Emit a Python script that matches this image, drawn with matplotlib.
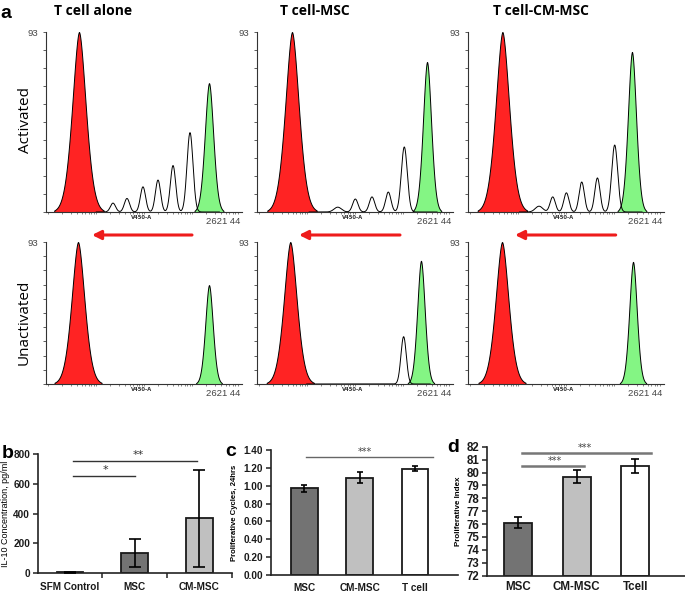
import numpy as np
import matplotlib
matplotlib.use("Agg")
import matplotlib.pyplot as plt
from matplotlib.ticker import FormatStrFormatter

# ---------------- data ----------------
CH_MAX = 262144
COUNT_MAX = 93
conditions = ["T cell alone", "T cell-MSC", "T cell-CM-MSC"]
row_labels = ["Activated", "Unactivated"]

# histogram peaks: (channel, count, width)
act_red = [[(44100, 93, 8800)], [(46800, 93, 8800)], [(46000, 93, 8800)]]
act_green = [[(218000, 66.6, 5600)], [(227400, 77.5, 5400)], [(219300, 82.7, 5400)]]
act_div = [
    [(89600, 4.6, 3500), (108300, 7.0, 3500), (129700, 13.0, 3500),
     (149800, 16.5, 3500), (169900, 24.0, 3600), (192600, 41.0, 4000)],
    [(108000, 2.5, 5000), (131500, 6.7, 3600), (153800, 7.8, 3600),
     (175600, 10.3, 3600), (197000, 33.6, 4000)],
    [(95000, 3.0, 5000), (113300, 7.8, 3500), (131600, 9.9, 3500),
     (152100, 15.5, 3500), (173100, 17.6, 3500), (196200, 34.6, 4000)],
]
un_red = [[(42800, 93, 8400)], [(44500, 93, 8400)], [(45500, 93, 8400)]]
un_green = [[(218000, 64.8, 5000)], [(219300, 80.7, 5000)], [(220700, 80.0, 5000)]]
un_div = [[], [(196100, 31.0, 3600)], []]

b_cats = ["SFM Control", "MSC", "CM-MSC"]
b_vals = [7, 136, 370]
b_err = [3, 95, 325]
b_ticks = [0, 200, 400, 600, 800]

c_cats = ["MSC", "CM-MSC", "T cell"]
c_vals = [0.97, 1.09, 1.19]
c_err = [0.035, 0.06, 0.03]
c_ticks = [0.0, 0.2, 0.4, 0.6, 0.8, 1.0, 1.2, 1.4]

d_cats = ["MSC", "CM-MSC", "Tcell"]
d_vals = [76.12, 79.67, 80.52]
d_err = [0.45, 0.49, 0.52]
d_ticks = list(range(72, 83))

# ---------------- layout helpers ----------------
W, H = 685, 595
fig = plt.figure(figsize=(6.85, 5.95), dpi=100)


def rect(x0, y0, x1, y1):
    return [x0 / W, 1 - y1 / H, (x1 - x0) / W, (y1 - y0) / H]


RED = "#ff2323"
GREEN = "#84f584"
xs = np.linspace(0, CH_MAX, 1500)


def curve(peaks, p=2.0):
    y = np.zeros_like(xs)
    for c, h, w in peaks:
        y += h * np.exp(-0.5 * np.abs((xs - c) / w) ** p)
    return y


col_left = [46, 257, 468]
col_w = 196
row_y = [(32, 212), (242, 384)]

# log-like tick pattern along the channel axis (styling)
xt = []
for d in [0.0, 0.25, 0.5, 0.75]:
    for k in range(1, 10):
        xt.append((d + 0.25 * np.log10(k)) * CH_MAX * 0.98 + 0.01 * CH_MAX)

for r, (reds, greens, divs) in enumerate([(act_red, act_green, act_div),
                                          (un_red, un_green, un_div)]):
    y0, y1 = row_y[r]
    for c in range(3):
        ax = fig.add_axes(rect(col_left[c], y0, col_left[c] + col_w, y1))
        ax.set_xlim(0, CH_MAX)
        ax.set_ylim(0, COUNT_MAX)
        for s in ["top", "right"]:
            ax.spines[s].set_visible(False)
        for s in ["left", "bottom"]:
            ax.spines[s].set_color("#333333")
            ax.spines[s].set_linewidth(0.8)
        yr = curve(reds[c], p=1.7)
        m = yr > 0.8
        ax.fill_between(xs[m], 0, yr[m], facecolor=RED, edgecolor="black", linewidth=0.7, zorder=2)
        yg = curve(greens[c], p=1.8)
        m = yg > 0.6
        ax.fill_between(xs[m], 0, yg[m], facecolor=GREEN, edgecolor="black", linewidth=0.7, zorder=2)
        if divs[c]:
            yw = curve(divs[c])
            m = (xs > reds[c][0][0] + 2.6 * reds[c][0][2]) & (xs < greens[c][0][0] + 2.5 * greens[c][0][2])
            ax.plot(xs[m], yw[m], color="black", lw=0.7, zorder=3)
        yt = np.linspace(0, COUNT_MAX, 11)
        ax.set_yticks(yt)
        ax.set_yticklabels([""] * 10 + ["93"])
        ax.tick_params(axis="y", length=2.2, width=0.6, direction="out", pad=3.5,
                       labelsize=6.8, labelcolor="#444444", color="#444444")
        for lab in ax.get_yticklabels():
            lab.set_family("Liberation Sans")
        ax.set_xticks(xt)
        ax.set_xticklabels([])
        ax.tick_params(axis="x", length=1.6, width=0.5, direction="out", color="#555555")
        ax.annotate("V450-A", xy=(0.49, 0), xycoords="axes fraction", xytext=(0, -2.5),
                    textcoords="offset points", ha="center", va="top", fontsize=3.8,
                    fontweight="bold", color="#333333")
        ax.annotate("2621 44", xy=(1.0, 0), xycoords="axes fraction", xytext=(-1, -3.5),
                    textcoords="offset points", ha="right", va="top", fontsize=6.8,
                    color="#444444", family="Liberation Sans")


# ---------------- bar panels ----------------
def style_bar_axis(ax, fs, pad_y=2, pad_x=6):
    for s in ["top", "right"]:
        ax.spines[s].set_visible(False)
    for s in ["left", "bottom"]:
        ax.spines[s].set_color("#222222")
        ax.spines[s].set_linewidth(1.2)
    ax.tick_params(axis="y", length=3.5, width=1.1, direction="out", pad=pad_y,
                   labelsize=fs, color="#222222")
    ax.tick_params(axis="x", which="major", length=0, pad=pad_x, labelsize=fs)
    ax.tick_params(axis="x", which="minor", length=3.5, width=1.1, direction="out", color="#222222")
    for lab in ax.get_yticklabels() + ax.get_xticklabels():
        lab.set_fontweight("bold")
        lab.set_family("Liberation Sans")
        lab.set_color("#1a1a1a")


GRAYS = ["#8a8a8a", "#737373", "#c0c0c0"]
EK = dict(ecolor="black", elinewidth=1.2, capthick=1.2)

# b
ax_b = fig.add_axes(rect(37.7, 454, 231.7, 573.3))
xb = np.arange(len(b_cats))
ax_b.bar(xb, b_vals, width=0.41, color=GRAYS, edgecolor="#1a1a1a", linewidth=1.3, zorder=2)
ax_b.errorbar(xb, b_vals, yerr=b_err, fmt="none", capsize=4, zorder=3, **EK)
ax_b.set_xlim(-0.5, 2.5)
ax_b.set_ylim(0, 800)
ax_b.set_yticks(b_ticks)
ax_b.set_xticks(xb)
ax_b.set_xticklabels(b_cats)
ax_b.set_xticks([0.5, 1.5, 2.5], minor=True)
style_bar_axis(ax_b, 7.2, pad_y=2, pad_x=6)
ax_b.plot([0.05, 1.97], [753, 753], color="#333333", lw=1.0, clip_on=False)
ax_b.plot([0.05, 1.0], [654, 654], color="#333333", lw=1.0, clip_on=False)
ax_b.text(1.06, 790, "**", ha="center", va="center", fontsize=8, color="#333333", clip_on=False)
ax_b.text(0.55, 690, "*", ha="center", va="center", fontsize=8, color="#333333", clip_on=False)
ax_b.set_ylabel("IL-10 Concentration, pg/ml", fontsize=6.5, family="Liberation Sans", labelpad=2)

# c
ax_c = fig.add_axes(rect(270.7, 450, 458, 575))
xc = np.arange(len(c_cats))
ax_c.bar(xc, c_vals, width=0.48, color=["#737373", "#c0c0c0", "white"], edgecolor="#1a1a1a",
         linewidth=1.3, zorder=2)
ax_c.errorbar(xc, c_vals, yerr=c_err, fmt="none", capsize=2.5, zorder=3, **EK)
ax_c.set_xlim(-0.61, 2.78)
ax_c.set_ylim(0, 1.4)
ax_c.set_yticks(c_ticks)
ax_c.yaxis.set_major_formatter(FormatStrFormatter("%.2f"))
ax_c.set_xticks(xc)
ax_c.set_xticklabels(c_cats)
ax_c.set_xticks([0.5, 1.5], minor=True)
style_bar_axis(ax_c, 7.2, pad_y=2, pad_x=5.5)
ax_c.tick_params(axis="x", which="minor", length=0)
ax_c.plot([0.03, 2.32], [1.318, 1.318], color="#666666", lw=1.0, clip_on=False)
ax_c.text(1.09, 1.375, "***", ha="center", va="center", fontsize=7, color="#444444", clip_on=False)
ax_c.set_ylabel("Proliferative Cycles, 24hrs", fontsize=5.6, fontweight="bold",
                family="Liberation Sans", labelpad=4)

# d
ax_d = fig.add_axes(rect(486.7, 446.7, 685, 575.7))
xd = np.arange(len(d_cats))
ax_d.bar(xd, np.array(d_vals) - 72, bottom=72, width=0.48,
         color=["#737373", "#c0c0c0", "white"], edgecolor="#1a1a1a", linewidth=1.3, zorder=2)
ax_d.errorbar(xd, d_vals, yerr=d_err, fmt="none", capsize=2.8, zorder=3, **EK)
ax_d.set_xlim(-0.535, 2.85)
ax_d.set_ylim(72, 82)
ax_d.set_yticks(d_ticks)
ax_d.set_xticks(xd)
ax_d.set_xticklabels(d_cats)
ax_d.set_xticks([0.5, 1.5], minor=True)
style_bar_axis(ax_d, 8.3, pad_y=2, pad_x=4)
ax_d.tick_params(axis="x", which="minor", length=0)
ax_d.plot([0.063, 2.27], [81.49, 81.49], color="#777777", lw=1.8, clip_on=False)
ax_d.plot([0.063, 1.125], [80.53, 80.53], color="#777777", lw=1.8, clip_on=False)
ax_d.text(1.145, 81.93, "***", ha="center", va="center", fontsize=7, color="#444444", clip_on=False)
ax_d.text(0.63, 80.92, "***", ha="center", va="center", fontsize=7, color="#444444", clip_on=False)
ax_d.set_ylabel("Proliferative Index", fontsize=5.8, fontweight="bold",
                family="Liberation Sans", labelpad=3)

# ---------------- overlay annotations ----------------
ov = fig.add_axes([0, 0, 1, 1])
ov.set_xlim(0, W)
ov.set_ylim(H, 0)
ov.axis("off")

title_x = [93, 315, 541]
for t, x in zip(conditions, title_x):
    ov.text(x, 11, t, ha="center", va="center", fontsize=10, fontweight="bold", family="Open Sans")
ov.text(26, 120, row_labels[0], rotation=90, ha="center", va="center", fontsize=11, family="Open Sans")
ov.text(24, 322, row_labels[1], rotation=90, ha="center", va="center", fontsize=11, family="Open Sans")

for lab, (x, y) in zip(["a", "b", "c", "d"], [(6, 14), (8, 453), (231, 451), (453, 447)]):
    ov.text(x, y, lab, ha="center", va="center", fontsize=14, fontweight="bold", family="Liberation Sans")

arrows = [(192, 92), (400, 299), (615.7, 515)]
for x_from, x_to in arrows:
    ov.annotate("", xy=(x_to, 235), xytext=(x_from, 235),
                arrowprops=dict(arrowstyle="-|>", color="#ee1c1c", lw=2.2, mutation_scale=13,
                                shrinkA=0, shrinkB=0))

fig.savefig("out.png", dpi=100)
